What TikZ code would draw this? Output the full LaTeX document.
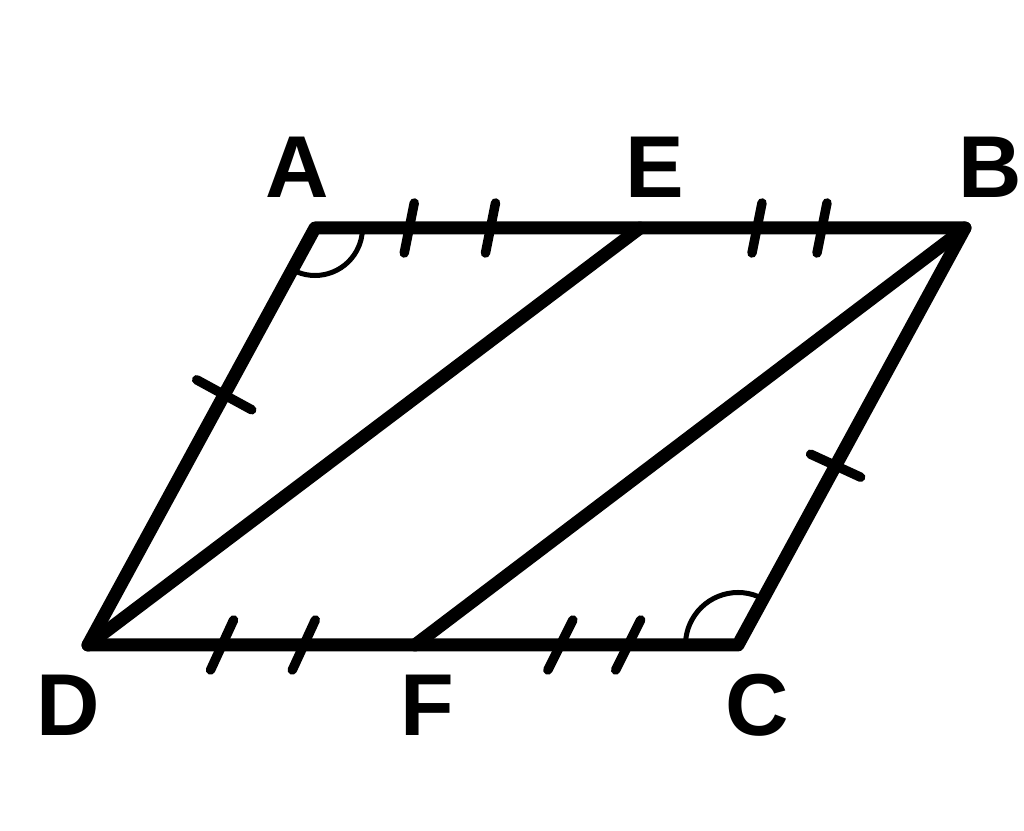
\documentclass[tikz,border=0pt]{standalone}
\usepackage{fontspec}
\setmainfont{Liberation Sans}
\usepackage{tikz}
\usetikzlibrary{calc}

\begin{document}
\begin{tikzpicture}[
    edge/.style={line width=0.26cm, line cap=round, line join=round},
    tickmark/.style={line width=0.19cm, line cap=round},
    anglemark/.style={line width=0.1cm},
    vlabel/.style={font=\fontsize{50}{50}\selectfont\bfseries, inner sep=0pt}
]
\useasboundingbox (0,0) rectangle (20.48,16.62);

% vertices
\coordinate (A) at (6.30,12.06);
\coordinate (E) at (12.80,12.06);
\coordinate (B) at (19.30,12.06);
\coordinate (D) at (1.76,3.72);
\coordinate (F) at (8.30,3.72);
\coordinate (C) at (14.76,3.72);

\node[vlabel] (lA) at (5.94,13.28) {A};
\node[vlabel] (lE) at (13.10,13.28) {E};
\node[vlabel] (lB) at (19.80,13.28) {B};
\node[vlabel] (lD) at (1.36,2.52) {D};
\node[vlabel] (lF) at (8.54,2.52) {F};
\node[vlabel] (lC) at (15.14,2.52) {C};

% sides and diagonals
\draw[edge] (A) -- (B) -- (C) -- (D) -- cycle;
\draw[edge] (D) -- (E);
\draw[edge] (F) -- (B);

% angle marks
\draw[anglemark] ($(A)+(241.6:0.95)$) arc[start angle=241.6, end angle=360, radius=0.95];
\draw[anglemark] ($(C)+(61.6:1.05)$) arc[start angle=61.6, end angle=180, radius=1.05];

% equal segments
\draw[tickmark] ($(A)!0.29!(E)$) +(-0.1,-0.5) -- +(0.1,0.5);
\draw[tickmark] ($(A)!0.54!(E)$) +(-0.1,-0.5) -- +(0.1,0.5);
\draw[tickmark] ($(E)!0.36!(B)$) +(-0.1,-0.5) -- +(0.1,0.5);
\draw[tickmark] ($(E)!0.56!(B)$) +(-0.1,-0.5) -- +(0.1,0.5);
\draw[tickmark] ($(D)!0.41!(F)$) +(-0.23,-0.5) -- +(0.23,0.5);
\draw[tickmark] ($(D)!0.66!(F)$) +(-0.23,-0.5) -- +(0.23,0.5);
\draw[tickmark] ($(F)!0.45!(C)$) +(-0.25,-0.5) -- +(0.25,0.5);
\draw[tickmark] ($(F)!0.66!(C)$) +(-0.25,-0.5) -- +(0.25,0.5);
\draw[tickmark] ($(A)!0.40!(D)$) +(-0.55,0.3) -- +(0.55,-0.3);
\draw[tickmark] ($(B)!0.57!(C)$) +(-0.5,0.23) -- +(0.5,-0.23);

\end{tikzpicture}
\end{document}
